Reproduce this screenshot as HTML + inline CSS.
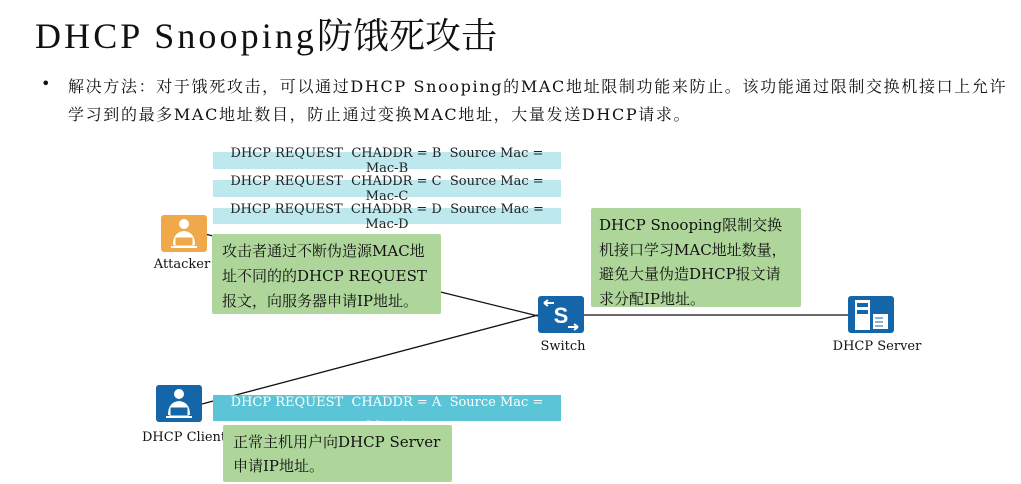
<!DOCTYPE html>
<html><head><meta charset="utf-8"><style>
body{margin:0;width:1021px;height:484px;background:#fff;position:relative;overflow:hidden;font-family:"DejaVu Serif","Noto Serif CJK SC",serif;color:#111}
.a{position:absolute;white-space:nowrap}
.bar{position:absolute;left:213px;width:348px;background:#bde8ee;font-size:13px;line-height:15px;text-align:center;white-space:normal;color:#222}
.g{position:absolute;background:#aed69b;border-radius:2px;font-size:15px;line-height:25px;padding:4px 10px;box-sizing:border-box}
.ic{position:absolute;width:46px;height:37px;border-radius:3px}
.lb{position:absolute;font-size:13px;text-align:center;width:120px}
</style></head><body>
<div class="a" style="left:35px;top:8px;font-size:36px;font-family:'Liberation Serif','Noto Serif CJK SC',serif"><span style="letter-spacing:3.1px">DHCP Snooping</span>防饿死攻击</div>
<div class="a" style="left:41px;top:74px;font-size:16px">•</div>
<div class="a" style="left:68px;top:73px;font-size:16px;line-height:28px;letter-spacing:1.65px">解决方法：对于饿死攻击，可以通过DHCP Snooping的MAC地址限制功能来防止。该功能通过限制交换机接口上允许<br>学习到的最多MAC地址数目，防止通过变换MAC地址，大量发送DHCP请求。</div>

<svg class="a" style="left:0;top:0" width="1021" height="484">
<line x1="205" y1="234" x2="538" y2="316" stroke="#111" stroke-width="1.3"/>
<line x1="202" y1="404" x2="538" y2="315" stroke="#111" stroke-width="1.3"/>
<line x1="584" y1="315" x2="848" y2="315" stroke="#111" stroke-width="1.3"/>
</svg>

<div class="bar" style="top:152px;height:17px"><div style="margin-top:-6px;padding:0 14px">DHCP REQUEST &nbsp;CHADDR = B &nbsp;Source Mac = Mac-B</div></div>
<div class="bar" style="top:180px;height:17px"><div style="margin-top:-6px;padding:0 14px">DHCP REQUEST &nbsp;CHADDR = C &nbsp;Source Mac = Mac-C</div></div>
<div class="bar" style="top:208px;height:16px"><div style="margin-top:-6px;padding:0 14px">DHCP REQUEST &nbsp;CHADDR = D &nbsp;Source Mac = Mac-D</div></div>

<div class="ic" style="left:161px;top:215px;background:#f0a94a"></div>
<svg class="a" style="left:161px;top:215px" width="46" height="37"><circle cx="23" cy="9" r="5" fill="#fff"/><path d="M12 30 Q12 17 23 16 Q34 17 34 30Z" fill="#fff"/><rect x="14" y="22" width="18" height="9" fill="#f0a94a" stroke="#fff"/><rect x="10" y="31" width="26" height="2" fill="#fff"/></svg>
<div class="lb" style="left:122px;top:257px">Attacker</div>

<div class="g" style="left:212px;top:234px;width:229px;height:80px;padding-top:5px">攻击者通过不断伪造源MAC地址不同的的DHCP REQUEST报文，向服务器申请IP地址。</div>

<div class="ic" style="left:538px;top:296px;background:#1565a9"></div>
<svg class="a" style="left:538px;top:296px" width="46" height="37"><text x="23" y="27" font-size="22" font-weight="bold" fill="#fff" text-anchor="middle" font-family="Liberation Sans">S</text><path d="M6 7 H16 M6 7 l4 -3 M6 7 l4 3 M30 31 H40 M40 31 l-4 -3 M40 31 l-4 3" stroke="#fff" stroke-width="2" fill="none"/></svg>
<div class="lb" style="left:503px;top:339px">Switch</div>

<div class="g" style="left:591px;top:208px;width:210px;height:99px;line-height:24.5px;padding:5px 8px">DHCP Snooping限制交换机接口学习MAC地址数量，避免大量伪造DHCP报文请求分配IP地址。</div>

<div class="ic" style="left:848px;top:296px;background:#1565a9"></div>
<svg class="a" style="left:848px;top:296px" width="46" height="37"><rect x="7" y="4" width="15" height="30" fill="#fff"/><rect x="9" y="7" width="11" height="4" fill="#1565a9"/><rect x="9" y="14" width="11" height="4" fill="#1565a9"/><rect x="25" y="18" width="15" height="15" fill="#fff"/><path d="M27 22h8M27 26h8M27 30h8" stroke="#1565a9"/></svg>
<div class="lb" style="left:817px;top:339px">DHCP Server</div>

<div class="ic" style="left:156px;top:385px;background:#1565a9"></div>
<svg class="a" style="left:156px;top:385px" width="46" height="37"><circle cx="23" cy="9" r="5" fill="#fff"/><path d="M12 30 Q12 17 23 16 Q34 17 34 30Z" fill="#fff"/><rect x="14" y="22" width="18" height="9" fill="#1565a9" stroke="#fff"/><rect x="10" y="31" width="26" height="2" fill="#fff"/></svg>
<div class="lb" style="left:142px;top:430px;text-align:left">DHCP Client</div>

<div class="bar" style="top:395px;height:26px;background:#5bc4d6;color:#fff;overflow:hidden"><div style="margin-top:-4px;line-height:24px;padding:0 14px">DHCP REQUEST &nbsp;CHADDR = A &nbsp;Source Mac = Mac-A</div></div>

<div class="g" style="left:223px;top:425px;width:229px;height:57px;padding:5px 10px;line-height:24px">正常主机用户向DHCP Server申请IP地址。</div>
</body></html>
